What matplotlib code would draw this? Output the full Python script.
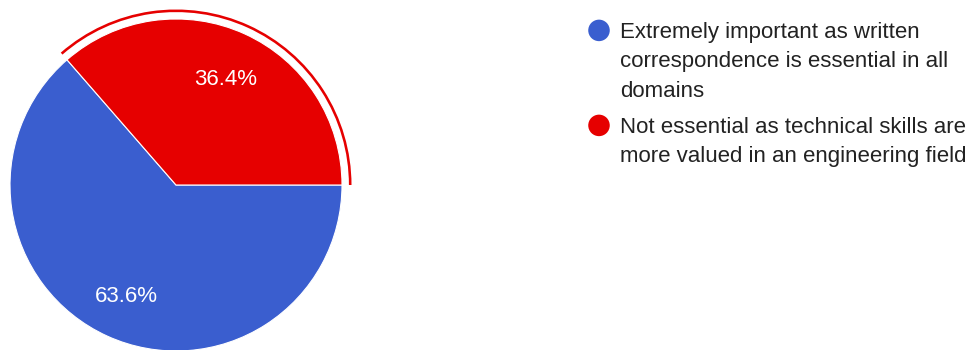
import matplotlib
matplotlib.use("Agg")
from matplotlib import pyplot as plt
from matplotlib.patches import Wedge

plt.rcParams["font.family"] = ["Liberation Sans", "DejaVu Sans"]

# survey answers
answers = [
    "Extremely important as written correspondence is essential in all domains",
    "Not essential as technical skills are more valued in an engineering field",
]
legend_lines = [
    ["Extremely important as written", "correspondence is essential in all", "domains"],
    ["Not essential as technical skills are", "more valued in an engineering field"],
]
shares = [63.6, 36.4]
colors = ["#3A5ECF", "#E60000"]

W, H = 970, 350
fig = plt.figure(figsize=(W / 100, H / 100), dpi=100)
ax = fig.add_axes([0, 0, 1, 1])

cx, cy, radius = 176, H - 185, 166
# blue goes first, starting where the red share ends
start = 360 * shares[1] / 100
wedges, _, autotexts = ax.pie(
    shares,
    colors=colors,
    center=(cx, cy),
    radius=radius,
    startangle=start,
    counterclock=True,
    autopct="%.1f%%",
    pctdistance=0.72,
    wedgeprops=dict(edgecolor="white", linewidth=0.8),
    textprops=dict(color="white", fontsize=16),
    frame=True,
)
for t in autotexts:
    x, y = t.get_position()
    t.set_position((x, y - 3))
ax.set_xlim(0, W)
ax.set_ylim(0, H)
ax.set_aspect("equal")
ax.axis("off")

# highlight ring around the selected slice
ax.add_patch(Wedge((cx, cy), radius + 9.5, 0, start, width=2.6,
                   facecolor=colors[1], edgecolor="none"))

# legend
baselines = [[H - 38, H - 67.5, H - 97], [H - 133, H - 162]]
for i, lines in enumerate(legend_lines):
    ax.scatter([599], [baselines[i][0] + 7.6], s=240, color=colors[i],
               edgecolors="none", clip_on=False)
    for txt, yb in zip(lines, baselines[i]):
        ax.text(620, yb, txt, fontsize=16, color="#222222",
                ha="left", va="baseline")

fig.savefig("out.png", dpi=100)
